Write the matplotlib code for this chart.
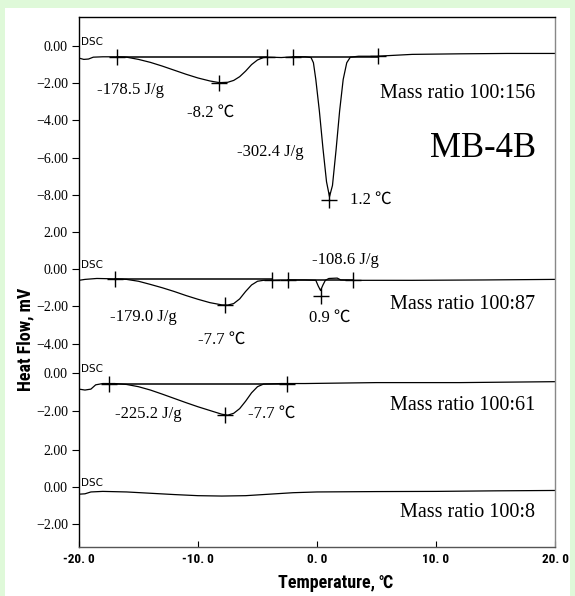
import matplotlib
matplotlib.use("Agg")
import matplotlib.pyplot as plt
from matplotlib import font_manager

# ---------------- data ----------------
offsets = [0.0, -12.0, -17.6, -23.7]

t1 = [-20.0, -19.6, -19.2, -18.8, -18.0, -17.0, -16.0, -15.0, -14.0, -13.0, -12.0, -11.0,
      -10.0, -9.0, -8.2, -7.5, -7.0, -6.5, -6.0, -5.5, -5.0, -4.5, -4.0, -3.0, -2.0, -1.0,
      -0.5, -0.3, -0.1, 0.2, 0.5, 0.8, 1.05, 1.3, 1.6, 1.9, 2.2, 2.5, 2.8, 3.5, 5.0, 8.0,
      12.0, 16.0, 20.0]
h1 = [-0.65, -0.72, -0.70, -0.60, -0.58, -0.58, -0.60, -0.72, -0.88, -1.08, -1.30, -1.52,
      -1.72, -1.88, -1.97, -1.95, -1.85, -1.65, -1.35, -1.00, -0.75, -0.62, -0.60, -0.62,
      -0.58, -0.58, -0.62, -0.90, -1.80, -3.50, -5.50, -7.30, -8.10, -7.50, -5.60, -3.50,
      -1.80, -0.90, -0.60, -0.55, -0.55, -0.45, -0.42, -0.40, -0.40]

t2 = [-20.0, -19.5, -18.5, -17.0, -16.0, -15.0, -14.0, -13.0, -12.0, -11.0, -10.0, -9.0,
      -8.0, -7.5, -7.0, -6.5, -6.0, -5.5, -5.0, -4.5, -3.0, -1.0, -0.1, 0.1, 0.3, 0.5, 0.7,
      1.0, 1.7, 2.0, 3.0, 8.0, 14.0, 20.0]
h2 = [-0.60, -0.55, -0.50, -0.52, -0.55, -0.65, -0.82, -1.00, -1.20, -1.42, -1.62, -1.80,
      -1.92, -1.93, -1.85, -1.60, -1.20, -0.85, -0.65, -0.60, -0.58, -0.58, -0.60, -0.90,
      -1.15, -0.85, -0.60, -0.50, -0.48, -0.58, -0.60, -0.60, -0.58, -0.55]

t3 = [-20.0, -19.5, -19.0, -18.6, -18.0, -17.0, -16.0, -15.0, -14.0, -13.0, -12.0, -11.0,
      -10.0, -9.0, -8.0, -7.5, -7.0, -6.5, -6.0, -5.5, -5.0, -4.5, -3.0, -1.0, 5.0, 12.0, 20.0]
h3 = [-0.85, -0.90, -0.85, -0.62, -0.55, -0.55, -0.60, -0.72, -0.90, -1.12, -1.35, -1.58,
      -1.80, -2.00, -2.20, -2.25, -2.15, -1.90, -1.50, -1.05, -0.72, -0.58, -0.55, -0.55,
      -0.50, -0.50, -0.45]

t4 = [-20.0, -19.5, -19.0, -18.0, -16.0, -14.0, -12.0, -10.0, -8.0, -6.0, -4.0, -2.0, 0.0,
      5.0, 10.0, 15.0, 20.0]
h4 = [-0.40, -0.38, -0.28, -0.25, -0.28, -0.35, -0.42, -0.48, -0.50, -0.48, -0.40, -0.32,
      -0.28, -0.26, -0.25, -0.22, -0.20]

temps = [t1, t2, t3, t4]
flows = [h1, h2, h3, h4]

# cross markers (T, mV) per trace
marks = [
    [(-16.8, -0.60), (-8.2, -1.97), (-4.2, -0.58), (-2.0, -0.58), (1.05, -8.30), (5.1, -0.55)],
    [(-17.0, -0.52), (-7.7, -1.95), (-3.8, -0.58), (-2.4, -0.58), (0.3, -1.45), (3.0, -0.58)],
    [(-17.5, -0.55), (-7.7, -2.25), (-2.5, -0.55)],
    [],
]
# integration baselines (T start, T end, mV)
baselines = [
    [(-16.8, -4.2, -0.60), (-2.0, 5.1, -0.57)],
    [(-17.0, -3.8, -0.55), (-2.4, 3.0, -0.58)],
    [(-17.5, -2.5, -0.55)],
    [],
]

# y tick values per trace
tick_vals = [[0, -2, -4, -6, -8], [2, 0, -2, -4], [0, -2], [2, 0, -2]]

x_ticks = [-20, -10, 0, 10, 20]
x_tick_labels = ["-20. 0", "-10. 0", "0. 0", "10. 0", "20. 0"]

# annotations: (text, T, virtual y, ha)
annotations = [
    ("-178.5 J/g", -18.5, -2.37, "left"),
    ("-8.2 ℃", -10.9, -3.6, "left"),
    ("-302.4 J/g", -6.7, -5.7, "left"),
    ("1.2 ℃", 2.8, -8.28, "left"),
    ("-108.6 J/g", -0.4, -11.5, "left"),
    ("-179.0 J/g", -17.4, -14.57, "left"),
    ("-7.7 ℃", -10.0, -15.8, "left"),
    ("0.9 ℃", -0.7, -14.6, "left"),
    ("-225.2 J/g", -17.0, -19.8, "left"),
    ("-7.7 ℃", -5.8, -19.8, "left"),
]
ratio_labels = ["Mass ratio 100:156", "Mass ratio 100:87", "Mass ratio 100:61", "Mass ratio 100:8"]
ratio_y = [-2.53, -13.9, -19.35, -25.1]
title_text = "MB-4B"

# ---------------- fonts ----------------
names = {f.name for f in font_manager.fontManager.ttflist}
cond_candidates = ["DejaVu Sans Condensed", "Liberation Sans Narrow", "Roboto Condensed",
                   "Open Sans Condensed"]
narrow = next((c for c in cond_candidates if c in names), None)
if narrow is None:
    narrow = "DejaVu Sans"
    lab_fs, tick_fs = 10.5, 8
else:
    lab_fs, tick_fs = 13, 9.5
serif = ["Liberation Serif", "Noto Sans CJK JP", "DejaVu Sans"]
sans_b = [narrow, "Noto Sans CJK JP", "DejaVu Sans"]

# ---------------- figure ----------------
fig = plt.figure(figsize=(5.75, 5.96), dpi=100)
fig.patch.set_facecolor("#dff9d9")
panel = fig.add_axes([5 / 575, 0, 565 / 575, 1 - 8 / 596])
panel.set_facecolor("white")
panel.set_xticks([]); panel.set_yticks([])
for s in panel.spines.values():
    s.set_visible(False)

ax = fig.add_axes([79 / 575, 1 - 547 / 596, (555 - 79) / 575, (547 - 17) / 596])
ax.set_facecolor("white")
ax.set_xlim(-20, 20)
ax.set_ylim(-26.94, 1.56)

for i in range(4):
    off = offsets[i]
    ax.plot(temps[i], [v + off for v in flows[i]], color="black", lw=0.9)
    for (a, b, v) in baselines[i]:
        ax.plot([a, b], [v + off, v + off], color="black", lw=1.1)
    if marks[i]:
        ax.plot([m[0] for m in marks[i]], [m[1] + off for m in marks[i]], ls="none",
                marker="+", ms=12, mew=1.0, color="black")
    ax.text(-19.85, off - 0.05, "DSC", fontsize=7.5, family="DejaVu Sans", ha="left",
            va="bottom", color="black")

yt, yl = [], []
for i in range(4):
    for v in tick_vals[i]:
        yt.append(v + offsets[i])
        yl.append("\u2212%.2f" % abs(v) if v < 0 else "%.2f" % v)
ax.set_yticks(yt)
ax.set_yticklabels(yl, family=serif, fontsize=10)
ax.tick_params(axis="y", direction="out", length=5, width=0.8, pad=3)

ax.set_xticks(x_ticks)
ax.set_xticklabels(x_tick_labels, family=sans_b, fontsize=tick_fs, fontweight="bold")
ax.tick_params(axis="x", direction="in", length=4, width=0.8, pad=4)

for k in ["left", "top"]:
    ax.spines[k].set_color("black"); ax.spines[k].set_linewidth(1.0)
ax.spines["bottom"].set_color("#555555"); ax.spines["bottom"].set_linewidth(1.0)
ax.spines["right"].set_color("#888888"); ax.spines["right"].set_linewidth(1.0)

for txt, x, y, ha in annotations:
    ax.text(x, y, txt, family=serif, fontsize=12, ha=ha, va="center")
for txt, y in zip(ratio_labels, ratio_y):
    ax.text(18.35, y, txt, family=serif, fontsize=14.5, ha="right", va="center")
ax.text(18.4, -5.5, title_text, family=serif, fontsize=25, ha="right", va="center")

fig.text(336 / 575, 1 - 583 / 596, "Temperature, ℃", family=sans_b, fontsize=lab_fs,
         fontweight="bold", ha="center", va="center")
fig.text(25 / 575, 1 - 339 / 596, "Heat Flow, mV", family=sans_b, fontsize=lab_fs,
         fontweight="bold", ha="center", va="center", rotation=90)

fig.savefig("out.png", dpi=100, facecolor=fig.get_facecolor())
